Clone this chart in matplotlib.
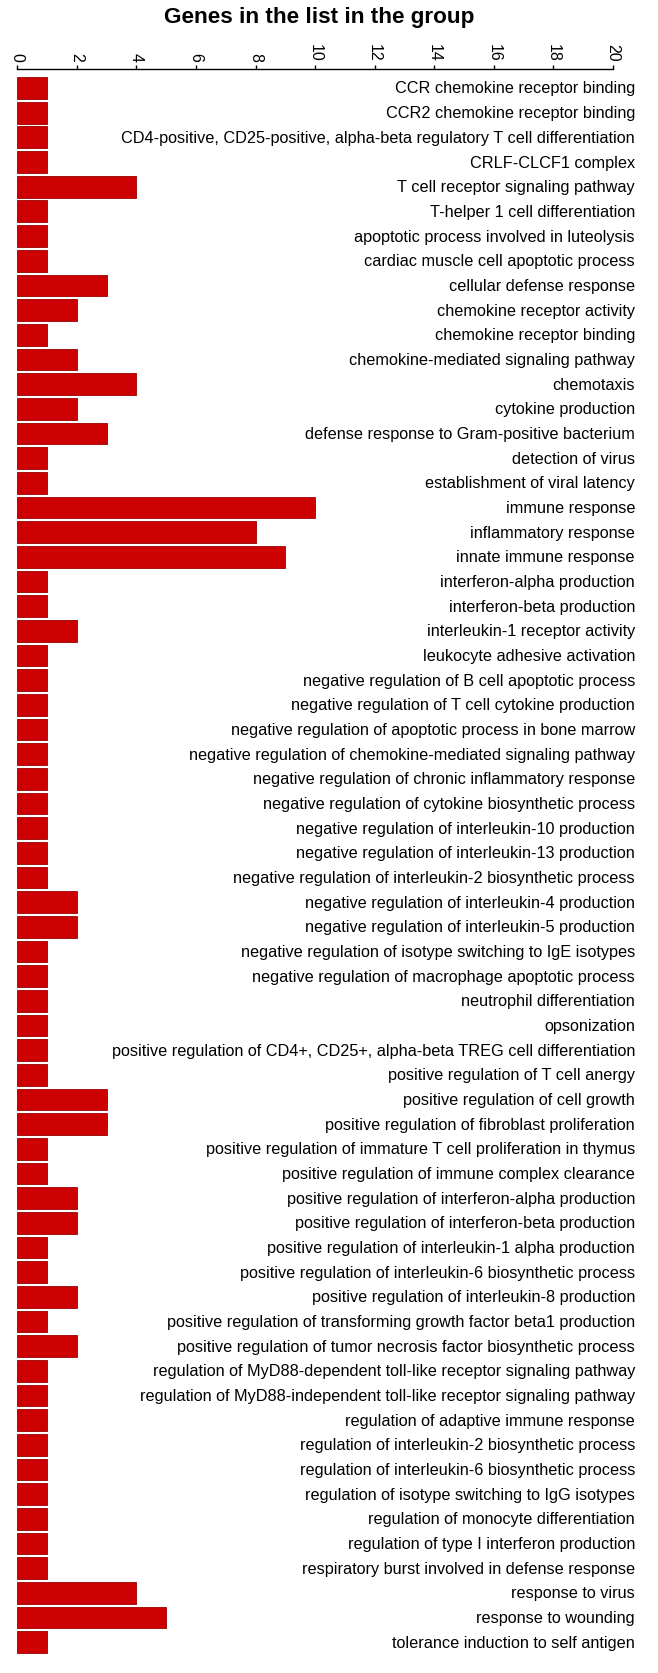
import matplotlib
matplotlib.use("Agg")
import matplotlib.pyplot as plt
from matplotlib.transforms import blended_transform_factory

categories = [
    "CCR chemokine receptor binding",
    "CCR2 chemokine receptor binding",
    "CD4-positive, CD25-positive, alpha-beta regulatory T cell differentiation",
    "CRLF-CLCF1 complex",
    "T cell receptor signaling pathway",
    "T-helper 1 cell differentiation",
    "apoptotic process involved in luteolysis",
    "cardiac muscle cell apoptotic process",
    "cellular defense response",
    "chemokine receptor activity",
    "chemokine receptor binding",
    "chemokine-mediated signaling pathway",
    "chemotaxis",
    "cytokine production",
    "defense response to Gram-positive bacterium",
    "detection of virus",
    "establishment of viral latency",
    "immune response",
    "inflammatory response",
    "innate immune response",
    "interferon-alpha production",
    "interferon-beta production",
    "interleukin-1 receptor activity",
    "leukocyte adhesive activation",
    "negative regulation of B cell apoptotic process",
    "negative regulation of T cell cytokine production",
    "negative regulation of apoptotic process in bone marrow",
    "negative regulation of chemokine-mediated signaling pathway",
    "negative regulation of chronic inflammatory response",
    "negative regulation of cytokine biosynthetic process",
    "negative regulation of interleukin-10 production",
    "negative regulation of interleukin-13 production",
    "negative regulation of interleukin-2 biosynthetic process",
    "negative regulation of interleukin-4 production",
    "negative regulation of interleukin-5 production",
    "negative regulation of isotype switching to IgE isotypes",
    "negative regulation of macrophage apoptotic process",
    "neutrophil differentiation",
    "opsonization",
    "positive regulation of CD4+, CD25+, alpha-beta TREG cell differentiation",
    "positive regulation of T cell anergy",
    "positive regulation of cell growth",
    "positive regulation of fibroblast proliferation",
    "positive regulation of immature T cell proliferation in thymus",
    "positive regulation of immune complex clearance",
    "positive regulation of interferon-alpha production",
    "positive regulation of interferon-beta production",
    "positive regulation of interleukin-1 alpha production",
    "positive regulation of interleukin-6 biosynthetic process",
    "positive regulation of interleukin-8 production",
    "positive regulation of transforming growth factor beta1 production",
    "positive regulation of tumor necrosis factor biosynthetic process",
    "regulation of MyD88-dependent toll-like receptor signaling pathway",
    "regulation of MyD88-independent toll-like receptor signaling pathway",
    "regulation of adaptive immune response",
    "regulation of interleukin-2 biosynthetic process",
    "regulation of interleukin-6 biosynthetic process",
    "regulation of isotype switching to IgG isotypes",
    "regulation of monocyte differentiation",
    "regulation of type I interferon production",
    "respiratory burst involved in defense response",
    "response to virus",
    "response to wounding",
    "tolerance induction to self antigen",
]

counts = [
    1, 1, 1, 1, 4, 1, 1, 1, 3, 2, 1, 2, 4, 2, 3, 1, 1, 10, 8, 9,
    1, 1, 2, 1, 1, 1, 1, 1, 1, 1, 1, 1, 1, 2, 2, 1, 1, 1, 1, 1,
    1, 3, 3, 1, 1, 2, 2, 1, 1, 2, 1, 2, 1, 1, 1, 1, 1, 1, 1, 1,
    1, 4, 5, 1,
]

x_ticks = [0, 2, 4, 6, 8, 10, 12, 14, 16, 18, 20]
title = "Genes in the list in the group"

W, H = 658, 1674
fig = plt.figure(figsize=(W / 100, H / 100), dpi=100)
fig.patch.set_facecolor("white")

left_px, right_px, top_px, bottom_px = 17.3, 613.0, 70.0, 1658.0
ax = fig.add_axes([left_px / W, 1 - bottom_px / H,
                   (right_px - left_px) / W, (bottom_px - top_px) / H])

n = len(categories)
ypos = list(range(n))
ax.barh(ypos, counts, height=0.88, color="#CC0000",
        edgecolor="#9A0000", linewidth=0.6)

ax.set_xlim(0, 20)
ax.set_ylim(n - 0.4, -0.77)
ax.xaxis.tick_top()
ax.set_xticks(x_ticks)
ax.set_xticklabels([str(t) for t in x_ticks], rotation=270,
                   fontsize=11.5, family="Liberation Sans")
ax.tick_params(axis="x", direction="out", length=3.0, width=1.0,
               pad=3, colors="black")
ax.set_yticks([])
for s in ["left", "right", "bottom"]:
    ax.spines[s].set_visible(False)
ax.spines["top"].set_linewidth(1.0)

trans = blended_transform_factory(fig.transFigure, ax.transData)
for i, lab in enumerate(categories):
    ax.text(635 / W, i, lab, transform=trans, ha="right", va="center",
            fontsize=11.7, family="Liberation Sans", color="black",
            clip_on=False)

fig.text(319 / W, 1 - 17 / H, title, ha="center", va="center",
         fontsize=16.2, fontweight="bold", family="Liberation Sans")

fig.savefig("out.png", dpi=100, facecolor="white")
